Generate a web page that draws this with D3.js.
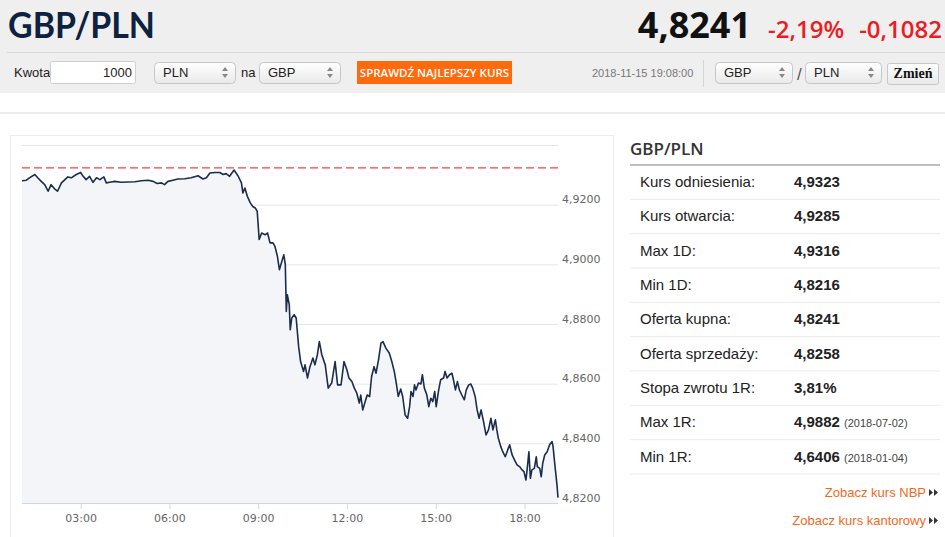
<!DOCTYPE html>
<html>
<head>
<meta charset="utf-8">
<script src="https://cdn.jsdelivr.net/npm/d3@7"></script>
<style>
  html, body { margin: 0; padding: 0; background: #fff; overflow: hidden; }
  svg { display: block; }
</style>
</head>
<body>
<svg id="page" width="945" height="537"></svg>
<script>
// --- dane ---
const pair = "GBP/PLN";
const lastRate = "4,8241";
const changePct = "-2,19%";
const changeAbs = "-0,1082";
const stamp = "2018-11-15 19:08:00";
const referenceRate = 4.9323;

const times = [
  "01:01","01:10","01:16","01:27","01:33","01:40","01:47","01:54","02:00","02:07",
  "02:13","02:21","02:28","02:34","02:41","02:51","03:00","03:05","03:11","03:18",
  "03:25","03:32","03:39","03:47","03:52","03:59","04:09","04:22","04:36","04:50",
  "05:03","05:17","05:27","05:35","05:44","05:50","05:57","06:07","06:17","06:31",
  "06:44","06:58","07:08","07:15","07:22","07:32","07:42","07:49","07:55","08:02",
  "08:11","08:19","08:26","08:29","08:33","08:38","08:44","08:49","08:54","08:58",
  "09:02","09:07","09:14","09:19","09:24","09:30","09:34","09:39","09:43","09:48",
  "09:52","09:55","09:57","09:59","10:03","10:05","10:08","10:13","10:17","10:22",
  "10:26","10:32","10:35","10:40","10:45","10:51","10:55","11:00","11:04","11:09",
  "11:16","11:22","11:29","11:36","11:41","11:48","11:54","12:00","12:04","12:10",
  "12:15","12:20","12:25","12:28","12:32","12:37","12:41","12:46","12:50","12:55",
  "12:59","13:04","13:09","13:13","13:19","13:26","13:31","13:36","13:40","13:44",
  "13:49","13:53","13:58","14:03","14:07","14:10","14:14","14:17","14:20","14:25",
  "14:30","14:33","14:37","14:42","14:46","14:50","14:54","14:58","15:01","15:06",
  "15:10","15:16","15:19","15:23","15:28","15:33","15:36","15:40","15:44","15:48",
  "15:53","15:58","16:02","16:07","16:11","16:15","16:20","16:24","16:28","16:32",
  "16:37","16:42","16:47","16:52","16:56","17:01","17:04","17:07","17:12","17:16",
  "17:21","17:26","17:30","17:35","17:40","17:45","17:50","17:55","17:59","18:03",
  "18:06","18:09","18:12","18:15","18:20","18:24","18:26","18:31","18:34","18:37",
  "18:41","18:46","18:51","18:56","18:58","19:02","19:06","19:08"
];
const rates = [
  4.9280,4.9282,4.9290,4.9301,4.9290,4.9278,4.9267,4.9245,4.9267,4.9253,
  4.9245,4.9273,4.9284,4.9293,4.9290,4.9301,4.9308,4.9295,4.9284,4.9295,
  4.9275,4.9290,4.9284,4.9293,4.9273,4.9275,4.9278,4.9275,4.9276,4.9277,
  4.9280,4.9282,4.9278,4.9271,4.9273,4.9267,4.9278,4.9282,4.9286,4.9287,
  4.9290,4.9297,4.9286,4.9290,4.9306,4.9308,4.9308,4.9301,4.9304,4.9295,
  4.9316,4.9297,4.9273,4.9239,4.9256,4.9228,4.9206,4.9194,4.9189,4.9178,
  4.9083,4.9105,4.9099,4.9105,4.9072,4.9072,4.9060,4.9027,4.8982,4.9010,
  4.9032,4.8999,4.8842,4.8898,4.8865,4.8781,4.8820,4.8831,4.8820,4.8725,
  4.8674,4.8641,4.8663,4.8619,4.8657,4.8686,4.8663,4.8697,4.8741,4.8697,
  4.8663,4.8585,4.8602,4.8674,4.8596,4.8596,4.8674,4.8646,4.8619,4.8607,
  4.8585,4.8568,4.8535,4.8562,4.8512,4.8540,4.8562,4.8557,4.8624,4.8657,
  4.8635,4.8680,4.8736,4.8741,4.8719,4.8702,4.8674,4.8641,4.8602,4.8557,
  4.8582,4.8557,4.8495,4.8484,4.8523,4.8574,4.8557,4.8596,4.8579,4.8602,
  4.8599,4.8630,4.8585,4.8562,4.8523,4.8551,4.8540,4.8574,4.8523,4.8579,
  4.8613,4.8619,4.8641,4.8619,4.8630,4.8635,4.8613,4.8579,4.8607,4.8579,
  4.8562,4.8546,4.8579,4.8596,4.8599,4.8585,4.8557,4.8512,4.8484,4.8512,
  4.8473,4.8428,4.8445,4.8484,4.8445,4.8479,4.8445,4.8417,4.8389,4.8372,
  4.8355,4.8378,4.8395,4.8361,4.8344,4.8328,4.8322,4.8311,4.8305,4.8277,
  4.8322,4.8372,4.8283,4.8311,4.8316,4.8355,4.8322,4.8316,4.8288,4.8333,
  4.8361,4.8372,4.8395,4.8406,4.8389,4.8322,4.8260,4.8218
];

const gridTicks = [4.82, 4.84, 4.86, 4.88, 4.90, 4.92, 4.94];
const labelTicks = [4.82, 4.84, 4.86, 4.88, 4.90, 4.92];
const hourTicks = ["03:00", "06:00", "09:00", "12:00", "15:00", "18:00"];

const statLabels = ["Kurs odniesienia:", "Kurs otwarcia:", "Max 1D:", "Min 1D:", "Oferta kupna:",
  "Oferta sprzedaży:", "Stopa zwrotu 1R:", "Max 1R:", "Min 1R:"];
const statValues = ["4,9323", "4,9285", "4,9316", "4,8216", "4,8241", "4,8258", "3,81%", "4,9882", "4,6406"];
const statDates = ["", "", "", "", "", "", "", "(2018-07-02)", "(2018-01-04)"];
const links = ["Zobacz kurs NBP", "Zobacz kurs kantorowy"];

// --- rysowanie ---
const svg = d3.select("#page");
const sans = "'Liberation Sans', Arial, sans-serif";
const open = "'Open Sans', sans-serif";

const defs = svg.append("defs");
const grad = defs.append("linearGradient").attr("id", "selGrad").attr("x1", 0).attr("y1", 0).attr("x2", 0).attr("y2", 1);
grad.append("stop").attr("offset", "0%").attr("stop-color", "#ffffff");
grad.append("stop").attr("offset", "100%").attr("stop-color", "#e9e9e9");

// nagłówek
svg.append("rect").attr("x", 0).attr("y", 0).attr("width", 945).attr("height", 93).attr("fill", "#efefef");
svg.append("line").attr("x1", 7).attr("x2", 945).attr("y1", 52.5).attr("y2", 52.5).attr("stroke", "#dadada");
svg.append("line").attr("x1", 0).attr("x2", 945).attr("y1", 113).attr("y2", 113).attr("stroke", "#ececec").attr("stroke-width", 2);

svg.append("text").attr("x", 8).attr("y", 38).text(pair)
  .attr("font-family", "Lato, sans-serif").attr("font-weight", 700).attr("font-size", 37).attr("fill", "#0d2140")
  .attr("textLength", 147).attr("lengthAdjust", "spacingAndGlyphs");
svg.append("text").attr("x", 751).attr("y", 38).attr("text-anchor", "end").text(lastRate)
  .attr("font-family", open).attr("font-weight", 700).attr("font-size", 36).attr("fill", "#111");
svg.append("text").attr("x", 768).attr("y", 38).text(changePct)
  .attr("font-family", open).attr("font-weight", 600).attr("font-size", 24).attr("fill", "#ec1c24");
svg.append("text").attr("x", 942).attr("y", 38).attr("text-anchor", "end").text(changeAbs)
  .attr("font-family", open).attr("font-weight", 600).attr("font-size", 24).attr("fill", "#ec1c24");

// formularz
function label(x, y, s, opts = {}) {
  return svg.append("text").attr("x", x).attr("y", y).text(s)
    .attr("font-family", opts.family || sans).attr("font-size", opts.size || 13)
    .attr("font-weight", opts.weight || 400).attr("fill", opts.fill || "#222")
    .attr("text-anchor", opts.anchor || "start");
}
function select(x, w, txt) {
  svg.append("rect").attr("x", x + 0.5).attr("y", 62.5).attr("width", w).attr("height", 21).attr("rx", 4)
    .attr("fill", "url(#selGrad)").attr("stroke", "#c6c6c6");
  label(x + 9, 77, txt);
  const ax = x + w - 10;
  svg.append("path").attr("d", `M${ax - 3},71 L${ax + 3},71 L${ax},67 Z M${ax - 3},74 L${ax + 3},74 L${ax},78 Z`).attr("fill", "#888");
}
label(14, 77, "Kwota");
svg.append("rect").attr("x", 50.5).attr("y", 61.5).attr("width", 85).attr("height", 22).attr("rx", 2)
  .attr("fill", "#fff").attr("stroke", "#cfcfcf");
label(132, 77, "1000", { anchor: "end" });
select(154, 81, "PLN");
label(241, 77, "na");
select(259, 81, "GBP");
svg.append("rect").attr("x", 357).attr("y", 61).attr("width", 155).attr("height", 23).attr("fill", "#ff6a0c");
label(434.5, 77, "SPRAWDŹ NAJLEPSZY KURS", { anchor: "middle", family: open, weight: 600, size: 11.5, fill: "#fff" });
label(592, 77, stamp, { size: 11, fill: "#777" });
svg.append("line").attr("x1", 703.5).attr("x2", 703.5).attr("y1", 60).attr("y2", 87).attr("stroke", "#d6d6d6");
select(715, 77, "GBP");
label(797, 80, "/", { size: 17, fill: "#555" });
select(805, 76, "PLN");
svg.append("rect").attr("x", 887.5).attr("y", 63.5).attr("width", 51).attr("height", 21).attr("rx", 2)
  .attr("fill", "url(#selGrad)").attr("stroke", "#c8c8c8");
label(913, 78, "Zmień", { anchor: "middle", family: "'Liberation Serif', serif", weight: 700, size: 14, fill: "#111" });

// wykres
svg.append("rect").attr("x", 10.5).attr("y", 135.5).attr("width", 603).attr("height", 420)
  .attr("fill", "none").attr("stroke", "#ececec");

const parseT = d3.timeParse("%H:%M");
const data = times.map((t, i) => ({ t: parseT(t), v: rates[i] }));

const x = d3.scaleTime().domain(d3.extent(data, d => d.t)).range([22, 558]);
const y = d3.scaleLinear().domain([4.82, 4.94]).range([503, 145]);

const plLocale = d3.formatLocale({ decimal: ",", thousands: " ", grouping: [3], currency: ["", " zł"] });
const fmt4 = plLocale.format(".4f");

const g = svg.append("g");

// siatka + etykiety osi Y po prawej
const yAxis = g.append("g").attr("transform", `translate(558,0)`)
  .call(d3.axisRight(y).tickValues(gridTicks).tickSize(-(558 - 22)).tickPadding(4)
    .tickFormat(d => labelTicks.some(v => Math.abs(v - d) < 1e-9) ? fmt4(d) : ""));
yAxis.select(".domain").remove();
yAxis.selectAll("line").attr("stroke", "#e6e6e6");
yAxis.selectAll("text").attr("dy", -2).attr("fill", "#666")
  .attr("font-family", "'DejaVu Sans', sans-serif").attr("font-size", 11);

// obszar i linia
g.append("path").datum(data)
  .attr("d", d3.area().x(d => x(d.t)).y0(y(4.82)).y1(d => y(d.v)))
  .attr("fill", "#f4f5f8");

g.append("line").attr("x1", 22).attr("x2", 558)
  .attr("y1", y(referenceRate)).attr("y2", y(referenceRate))
  .attr("stroke", "#f0444a").attr("stroke-width", 1.3).attr("stroke-dasharray", "8,4");

g.append("path").datum(data)
  .attr("d", d3.line().x(d => x(d.t)).y(d => y(d.v)))
  .attr("fill", "none").attr("stroke", "#1b2d4d").attr("stroke-width", 1.6).attr("stroke-linejoin", "round");

// oś X
const xAxis = g.append("g").attr("transform", `translate(0,${y(4.82)})`)
  .call(d3.axisBottom(x).tickValues(hourTicks.map(parseT)).tickSize(6).tickPadding(5)
    .tickFormat(d3.timeFormat("%H:%M")));
xAxis.select(".domain").attr("stroke", "#ccd6eb").attr("d", "M22,0.5H558");
xAxis.selectAll("line").attr("stroke", "#ccd6eb");
xAxis.selectAll("text").attr("fill", "#666")
  .attr("font-family", "'DejaVu Sans', sans-serif").attr("font-size", 11);

// panel statystyk
label(630, 155, pair, { family: open, weight: 600, size: 17, fill: "#333" });
svg.append("line").attr("x1", 630).attr("x2", 940).attr("y1", 165).attr("y2", 165)
  .attr("stroke", "#aaa").attr("stroke-width", 1.5);

const rows = d3.scaleBand().domain(statLabels).range([165, 474]);
const rowG = svg.append("g").selectAll("g").data(statLabels).join("g")
  .attr("transform", d => `translate(0,${rows(d)})`);
rowG.append("line").attr("x1", 630).attr("x2", 940)
  .attr("y1", rows.bandwidth()).attr("y2", rows.bandwidth()).attr("stroke", "#ebebeb");
rowG.append("text").attr("x", 640).attr("y", rows.bandwidth() / 2 + 5).text(d => d)
  .attr("font-family", sans).attr("font-size", 15).attr("fill", "#222");
rowG.append("text").attr("x", 794).attr("y", rows.bandwidth() / 2 + 5).text((d, i) => statValues[i])
  .attr("font-family", sans).attr("font-size", 15).attr("font-weight", 700).attr("fill", "#222");
rowG.append("text").attr("x", 844).attr("y", rows.bandwidth() / 2 + 5).text((d, i) => statDates[i])
  .attr("font-family", sans).attr("font-size", 11).attr("fill", "#444");

// linki
links.forEach((s, i) => {
  const ly = 497 + i * 28;
  label(926, ly, s, { anchor: "end", fill: "#f26a21" });
  svg.append("path")
    .attr("d", `M929,${ly - 8} L933,${ly - 4.5} L929,${ly - 1} Z M934,${ly - 8} L938,${ly - 4.5} L934,${ly - 1} Z`)
    .attr("fill", "#333");
});
</script>
</body>
</html>
